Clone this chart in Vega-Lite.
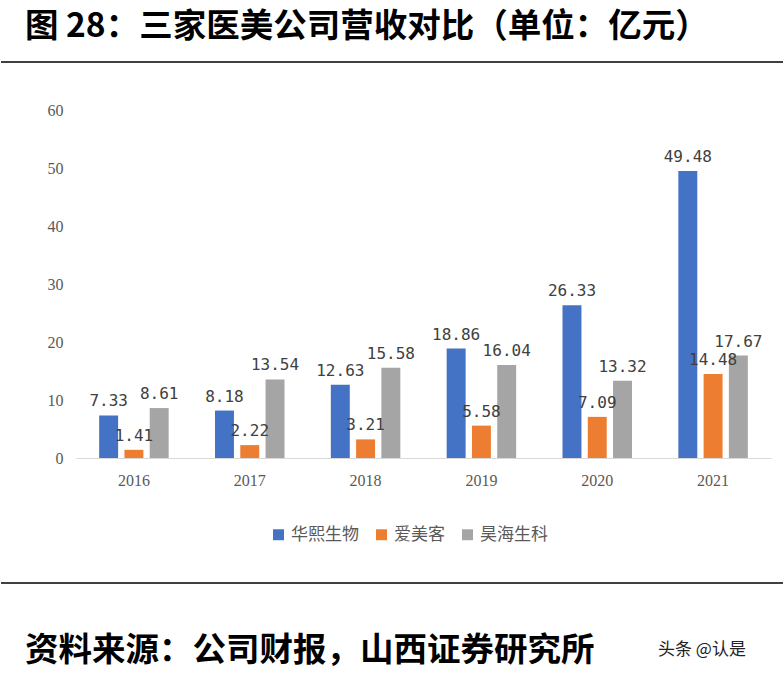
{
  "$schema": "https://vega.github.io/schema/vega-lite/v6.json",
  "padding": {"left": 0, "top": 0, "right": 0, "bottom": 0},
  "background": "white",
  "bounds": "flush",
  "spacing": 0,
  "resolve": {"legend": {"color": "independent"}, "scale": {"color": "independent"}},
  "config": {"view": {"stroke": null}, "font": "Noto Sans CJK SC"},
  "vconcat": [
    {
      "width": 695,
      "height": 110,
      "data": {"values": [{"t": "图 28：三家医美公司营收对比（单位：亿元）"}]},
      "layer": [
        {
          "mark": {"type": "text", "align": "left", "baseline": "middle", "fontSize": 33.5, "fontWeight": "bold", "color": "#000"},
          "encoding": {"text": {"field": "t"}, "x": {"value": -51}, "y": {"value": 27}}
        },
        {
          "mark": {"type": "rule", "color": "#000", "strokeWidth": 1.5},
          "encoding": {"x": {"value": -75}, "x2": {"value": 708}, "y": {"value": 62}}
        }
      ]
    },
    {
      "width": 695,
      "height": 348,
      "data": {
        "values": [
          {"year": "2016", "company": "华熙生物", "v": 7.33},
          {"year": "2016", "company": "爱美客", "v": 1.41},
          {"year": "2016", "company": "昊海生科", "v": 8.61},
          {"year": "2017", "company": "华熙生物", "v": 8.18},
          {"year": "2017", "company": "爱美客", "v": 2.22},
          {"year": "2017", "company": "昊海生科", "v": 13.54},
          {"year": "2018", "company": "华熙生物", "v": 12.63},
          {"year": "2018", "company": "爱美客", "v": 3.21},
          {"year": "2018", "company": "昊海生科", "v": 15.58},
          {"year": "2019", "company": "华熙生物", "v": 18.86},
          {"year": "2019", "company": "爱美客", "v": 5.58},
          {"year": "2019", "company": "昊海生科", "v": 16.04},
          {"year": "2020", "company": "华熙生物", "v": 26.33},
          {"year": "2020", "company": "爱美客", "v": 7.09},
          {"year": "2020", "company": "昊海生科", "v": 13.32},
          {"year": "2021", "company": "华熙生物", "v": 49.48},
          {"year": "2021", "company": "爱美客", "v": 14.48},
          {"year": "2021", "company": "昊海生科", "v": 17.67}
        ]
      },
      "encoding": {
        "x": {"field": "year", "type": "nominal", "scale": {"paddingInner": 0.4, "paddingOuter": 0.2},
          "axis": {"title": null, "labelAngle": 0, "labelFont": "Liberation Serif", "labelFontSize": 16, "labelColor": "#595959", "labelPadding": 14, "ticks": false, "domainColor": "#d9d9d9"}},
        "xOffset": {"field": "company", "sort": ["华熙生物", "爱美客", "昊海生科"], "scale": {"paddingInner": 0.25}},
        "y": {"field": "v", "type": "quantitative", "scale": {"domain": [0, 60]},
          "axis": {"title": null, "tickCount": 6, "grid": false, "domain": false, "ticks": false, "labelFont": "Liberation Serif", "labelFontSize": 16, "labelColor": "#595959", "labelPadding": 13}}
      },
      "layer": [
        {
          "mark": {"type": "bar"},
          "encoding": {
            "color": {"field": "company", "type": "nominal", "sort": ["华熙生物", "爱美客", "昊海生科"],
              "scale": {"domain": ["华熙生物", "爱美客", "昊海生科"], "range": ["#4472C4", "#ED7D31", "#A5A5A5"]},
              "legend": {"title": null, "orient": "none", "legendX": 194, "legendY": 416, "direction": "horizontal", "symbolType": "square", "symbolSize": 120, "symbolStrokeWidth": 0, "labelFontSize": 17, "labelColor": "#595959", "columnPadding": 14}}
          }
        },
        {
          "mark": {"type": "text", "dy": -14, "fontSize": 16, "font": "DejaVu Sans Mono", "color": "#404040"},
          "encoding": {"text": {"field": "v", "format": ".2f"}}
        }
      ]
    },
    {
      "width": 695,
      "height": 216,
      "data": {"values": [{"t": "资料来源：公司财报，山西证券研究所", "w": "头条 @认是"}]},
      "layer": [
        {
          "mark": {"type": "rule", "color": "#000", "strokeWidth": 1.5},
          "encoding": {"x": {"value": -75}, "x2": {"value": 708}, "y": {"value": 125}}
        },
        {
          "mark": {"type": "text", "align": "left", "baseline": "middle", "fontSize": 33.5, "fontWeight": "bold", "color": "#000"},
          "encoding": {"text": {"field": "t"}, "x": {"value": -51}, "y": {"value": 193}}
        },
        {
          "mark": {"type": "text", "align": "left", "baseline": "middle", "fontSize": 17, "color": "#222"},
          "encoding": {"text": {"field": "w"}, "x": {"value": 582}, "y": {"value": 192}}
        }
      ]
    }
  ]
}
